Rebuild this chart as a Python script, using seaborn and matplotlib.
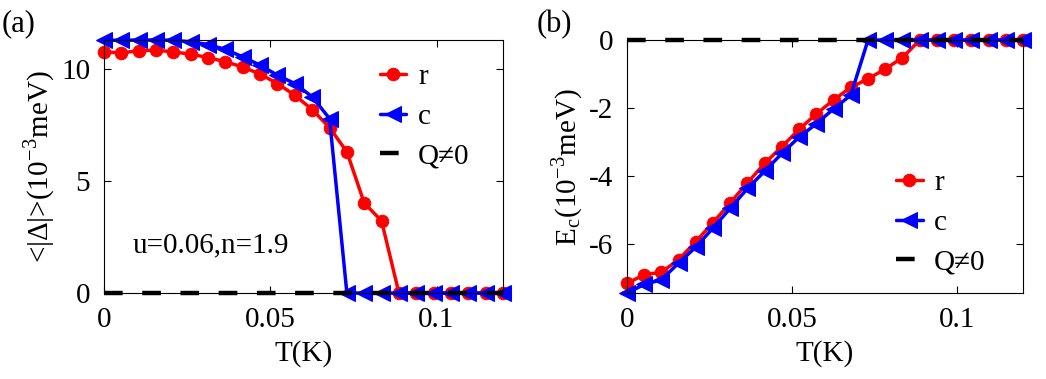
import numpy as np
import matplotlib
matplotlib.use("Agg")
import matplotlib.pyplot as plt
import seaborn as sns

# temperature grid (K)
T = np.linspace(0, 0.12, 24)

# (a) mean gap <|Delta|> in 1e-3 meV
gap_r = [10.74, 10.70, 10.79, 10.82, 10.74, 10.64, 10.49, 10.30, 10.07, 9.75,
         9.33, 8.81, 8.17, 7.37, 6.29, 4.01, 3.21, 0, 0, 0, 0, 0, 0, 0]
gap_c = [11.26, 11.26, 11.27, 11.27, 11.26, 11.19, 11.07, 10.85, 10.52, 10.15,
         9.70, 9.33, 8.74, 7.77, 0, 0, 0, 0, 0, 0, 0, 0, 0, 0]
gap_q = [0] * 24

# (b) condensation energy E_c in 1e-3 meV
ec_r = [-7.15, -6.89, -6.82, -6.45, -5.92, -5.36, -4.78, -4.19, -3.62, -3.13,
        -2.62, -2.17, -1.76, -1.39, -1.14, -0.85, -0.52, 0, 0, 0, 0, 0, 0, 0]
ec_c = [-7.43, -7.18, -7.04, -6.55, -6.08, -5.52, -4.94, -4.36, -3.85, -3.33,
        -2.85, -2.46, -2.02, -1.62, 0, 0, 0, 0, 0, 0, 0, 0, 0, 0]
ec_q = [0] * 24

sns.set_style("white")
plt.rcParams["font.family"] = ["Liberation Serif", "DejaVu Serif"]
plt.rcParams["mathtext.fontset"] = "stix"
plt.rcParams["axes.unicode_minus"] = False
plt.rcParams["font.size"] = 21
plt.rcParams["text.color"] = "black"
plt.rcParams["axes.labelcolor"] = "black"
plt.rcParams["xtick.color"] = "black"
plt.rcParams["ytick.color"] = "black"

fig = plt.figure(figsize=(10.46, 3.79), dpi=100)
ax_a = fig.add_axes([0.0994, 0.2269, 0.3815, 0.6675])
ax_b = fig.add_axes([0.5994, 0.2269, 0.3786, 0.6675])


def draw(ax, y_r, y_c, y_q):
    sns.lineplot(x=T, y=y_r, ax=ax, color="red", lw=2.5, marker="o", ms=9,
                 mec="red", mfc="red", estimator=None, sort=False, label="r")
    sns.lineplot(x=T, y=y_c, ax=ax, color="blue", lw=2.5, marker="<", ms=12,
                 mec="blue", mfc="blue", estimator=None, sort=False, label="c")
    sns.lineplot(x=T, y=y_q, ax=ax, color="black", lw=3.2, estimator=None,
                 sort=False, label="Q\u22600", dashes=False)
    ax.lines[-1].set_dashes((4.2, 4.4))
    for ln in ax.lines:
        ln.set_clip_on(False)
    ax.set_xlim(0, 0.12)
    ax.set_xticks([0, 0.05, 0.1])
    ax.set_xticklabels(["0", "0.05", "0.1"])
    ax.set_xlabel("T(K)", labelpad=5)
    ax.tick_params(direction="in", length=5, width=0.8, top=True, right=True,
                   bottom=True, left=True, labelsize=21, pad=10)
    for s in ax.spines.values():
        s.set_linewidth(0.8)
        s.set_color("black")


draw(ax_a, gap_r, gap_c, gap_q)
ax_a.set_ylim(0, max(gap_c))
ax_a.set_yticks([0, 5, 10])
ax_a.set_ylabel("<|\u0394|>(10$^{\\mathregular{-3}}$meV)", labelpad=3)
ax_a.text(0.0085, 2.1, "u=0.06,n=1.9", fontsize=21, va="center")
ax_a.legend(loc="upper right", bbox_to_anchor=(0.96, 0.975), frameon=False,
            handlelength=0.9, handletextpad=0.4, labelspacing=0.45,
            borderaxespad=0.2, fontsize=21)

draw(ax_b, ec_r, ec_c, ec_q)
ax_b.set_ylim(min(ec_c), 0)
ax_b.set_yticks([-6, -4, -2, 0])
ax_b.set_yticklabels(["-6", "-4", "-2", "0"])
ax_b.set_ylabel("E$_{\\mathregular{c}}$(10$^{\\mathregular{-3}}$meV)", labelpad=3)
ax_b.legend(loc="lower right", bbox_to_anchor=(0.95, 0.0), frameon=False,
            handlelength=0.9, handletextpad=0.4, labelspacing=0.45,
            borderaxespad=0.2, fontsize=21)

fig.text(0.002, 0.975, "(a)", fontsize=22, va="top", ha="left")
fig.text(0.513, 0.975, "(b)", fontsize=22, va="top", ha="left")

fig.savefig("out.png", dpi=100)
